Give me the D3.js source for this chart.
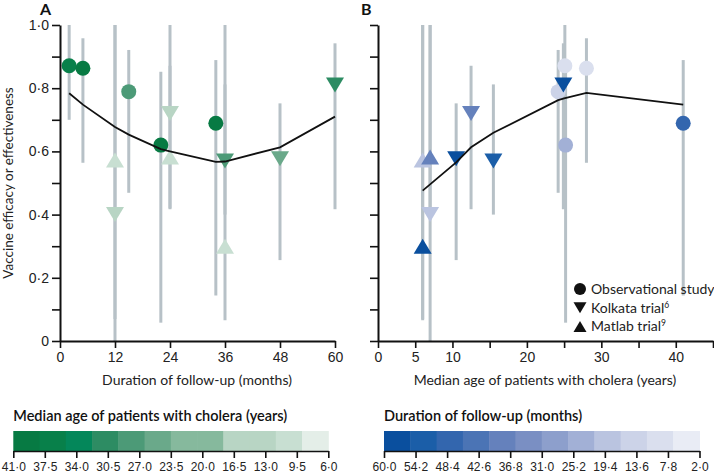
<!DOCTYPE html>
<html>
<head>
<meta charset="utf-8">
<script src="https://cdn.jsdelivr.net/npm/d3@7"></script>
<style>
  html, body { margin: 0; padding: 0; background: #fff; }
  svg { display: block; font-family: Lato, "Open Sans", "DejaVu Sans", sans-serif; }
</style>
</head>
<body>
<svg id="chart" width="714" height="473"></svg>
<script>
// ---------------- data ----------------
const studyType      = ["obs","obs","obs","obs","obs","kolkata","kolkata","kolkata","kolkata","kolkata","matlab","matlab","matlab"];
const durationMonths = [2, 5, 15, 22, 34, 12, 24, 36, 48, 60, 12, 24, 36];
const medianAge      = [25.1, 28.0, 24.2, 25.2, 41.0, 7.0, 12.5, 15.5, 10.5, 24.9, 6.0, 7.0, 6.0];
const efficacy       = [0.871, 0.863, 0.789, 0.620, 0.689, 0.40, 0.72, 0.57, 0.577, 0.81, 0.573, 0.582, 0.30];
const ciLow          = [0.70, 0.564, 0.469, 0.058, 0.144, 0.0, 0.417, 0.40, 0.256, 0.417, 0.07, 0.42, 0.066];
const ciHigh         = [1.0, 0.958, 0.921, 0.852, 0.889, 1.0, 0.871, 0.812, 0.752, 0.942, 1.0, 1.0, 1.0];
// legend value each marker's colour corresponds to (panel A: age legend, panel B: duration legend)
const shadeAgeValue      = [36, 40, 28, 39, 41, 16, 16, 28, 25, 31, 10, 10, 10];
const shadeDurationValue = [9, 9, 14, 23, 48, 17, 36, 53, 58, 59, 19, 38, 56];

// fitted curves
const fitDurationX = [2, 5, 12, 15, 22, 24, 34, 36, 48, 60];
const fitDurationY = [0.784, 0.748, 0.677, 0.653, 0.607, 0.600, 0.567, 0.568, 0.613, 0.710];
const fitAgeX = [6, 10.5, 12.5, 15.5, 24.2, 25, 28, 41];
const fitAgeY = [0.476, 0.565, 0.613, 0.659, 0.762, 0.768, 0.785, 0.748];

// axes ticks
const yTicks = [0, 0.1, 0.2, 0.3, 0.4, 0.5, 0.6, 0.7, 0.8, 0.9, 1.0];
const xTicksA = [0, 12, 24, 36, 48, 60];
const xTicksB = [0, 5, 10, 15, 20, 25, 30, 35, 40, 45];
const xLabelsB = [0, 5, 10, 20, 30, 40];

// colour legends
const ageLegendTicks = [41.0, 37.5, 34.0, 30.5, 27.0, 23.5, 20.0, 16.5, 13.0, 9.5, 6.0];
const ageLegendColours = ["#077a43","#08804a","#04875a","#2d8c63","#4c9a77","#6aa98a","#86b99d","#86b99d","#b8d5c4","#b8d5c4","#c8dfd2","#e4eee8"];
const durLegendTicks = [60.0, 54.2, 48.4, 42.6, 36.8, 31.0, 25.2, 19.4, 13.6, 7.8, 2.0];
const durLegendColours = ["#0a4f9e","#1b5ea8","#3366ae","#4b74b5","#6581bc","#7a8fc3","#8d9fcc","#a2b0d6","#bac4e0","#ccd3e8","#dadfee","#e9ecf5"];

const studies = studyType.map((t, i) => ({
  type: t, dur: durationMonths[i], age: medianAge[i], ve: efficacy[i],
  lo: ciLow[i], hi: ciHigh[i], shadeA: shadeAgeValue[i], shadeB: shadeDurationValue[i]
}));

// ---------------- drawing ----------------
const svg = d3.select("#chart");
const fmt = d => d3.format(".1f")(d).replace(".", "·");
const fmtY = d => d === 0 ? "0" : fmt(d);

const y = d3.scaleLinear().domain([0, 1]).range([341, 25]);
const xA = d3.scaleLinear().domain([0, 60]).range([60, 335]);
const xB = d3.scaleLinear().domain([0, 45]).range([378, 713]);

const colA = d3.scaleQuantize().domain([6, 41]).range(ageLegendColours.slice().reverse());
const colB = d3.scaleQuantize().domain([2, 60]).range(durLegendColours.slice().reverse());

function tri(cx, cy, hw, h, down) {
  const t = down ? cy - h / 2 : cy + h / 2;
  const b = down ? cy + h / 2 : cy - h / 2;
  return `M${cx - hw},${t}L${cx + hw},${t}L${cx},${b}Z`;
}

function styleAxis(g, fs) {
  g.select(".domain").attr("stroke", "#111").attr("stroke-width", 2);
  g.selectAll(".tick line").attr("stroke", "#111").attr("stroke-width", 1.6);
  g.selectAll(".tick text").attr("fill", "#222").style("font-size", fs + "px").attr("font-family", null);
}

function panel(x, xKey, colour, shadeKey, ticks, labelSet, fitX, fitY, showYLabels) {
  const g = svg.append("g");
  // error bars
  g.selectAll("line.ci").data(studies).join("line")
    .attr("x1", d => x(d[xKey])).attr("x2", d => x(d[xKey]))
    .attr("y1", d => y(d.lo)).attr("y2", d => y(d.hi))
    .attr("stroke", "#b7c1c7").attr("stroke-width", 3);
  // markers (lighter first, darker on top)
  const pts = studies.slice().sort((a, b) => a[shadeKey] - b[shadeKey]);
  pts.forEach(d => {
    const cx = x(d[xKey]), cy = y(d.ve), c = colour(d[shadeKey]);
    if (d.type === "obs") g.append("circle").attr("cx", cx).attr("cy", cy).attr("r", 7.5).attr("fill", c);
    else g.append("path").attr("d", tri(cx, cy, 9, 15, d.type === "kolkata")).attr("fill", c);
  });
  // fitted line
  const line = d3.line().x((d, i) => x(fitX[i])).y(d => y(d));
  g.append("path").datum(fitY).attr("d", line).attr("fill", "none").attr("stroke", "#111").attr("stroke-width", 1.8);

  // axes
  const ax = g.append("g").attr("transform", "translate(0,341)")
    .call(d3.axisBottom(x).tickValues(ticks).tickSize(7).tickSizeOuter(0).tickPadding(4)
      .tickFormat(d => labelSet.includes(d) ? d : ""));
  styleAxis(ax, 14);
  const ay = g.append("g").attr("transform", `translate(${x.range()[0]},0)`)
    .call(d3.axisLeft(y).tickValues(yTicks).tickSize(8).tickSizeOuter(0).tickPadding(3)
      .tickFormat(d => showYLabels && Math.round(d * 10) % 2 === 0 ? fmtY(d) : ""));
  styleAxis(ay, 14);
  return g;
}

panel(xA, "dur", colA, "shadeA", xTicksA, xTicksA, fitDurationX, fitDurationY, true);
panel(xB, "age", colB, "shadeB", xTicksB, xLabelsB, fitAgeX, fitAgeY, false);

// titles
svg.append("text").attr("x", 40).attr("y", 15).text("A").style("font-size", "16px").style("font-weight", "bold").attr("fill", "#111");
svg.append("text").attr("x", 361).attr("y", 15).text("B").style("font-size", "16px").style("font-weight", "bold").attr("fill", "#111");
svg.append("text").attr("x", 197).attr("y", 385).attr("text-anchor", "middle").style("font-size", "14px").attr("fill", "#222")
  .text("Duration of follow-up (months)");
svg.append("text").attr("x", 545).attr("y", 385).attr("text-anchor", "middle").style("font-size", "14px").attr("fill", "#222")
  .text("Median age of patients with cholera (years)");
svg.append("text").attr("transform", "translate(12.5,183) rotate(-90)").attr("text-anchor", "middle")
  .style("font-size", "13.5px").attr("fill", "#222").text("Vaccine efficacy or effectiveness");

// shape legend
const legItems = [
  { type: "obs", label: "Observational study", sup: "" },
  { type: "kolkata", label: "Kolkata trial", sup: "6" },
  { type: "matlab", label: "Matlab trial", sup: "9" }
];
legItems.forEach((d, i) => {
  const cy = 289 + i * 18.7, cx = 580;
  if (d.type === "obs") svg.append("circle").attr("cx", cx).attr("cy", cy).attr("r", 6).attr("fill", "#111");
  else svg.append("path").attr("d", tri(cx, cy, 6.5, 11, d.type === "kolkata")).attr("fill", "#111");
  const t = svg.append("text").attr("x", 591).attr("y", cy + 4.8).style("font-size", "14px").attr("fill", "#222").text(d.label);
  if (d.sup) t.append("tspan").attr("dy", -5).style("font-size", "8.5px").text(d.sup);
});

// colour bar legends
function colourBar(x0, x1, title, ticks, colours) {
  const g = svg.append("g");
  const s = d3.scaleLinear().domain([ticks[0], ticks[ticks.length - 1]]).range([x0, x1]);
  const n = colours.length, step = (ticks[ticks.length - 1] - ticks[0]) / n;
  colours.forEach((c, i) => {
    const a = s(ticks[0] + i * step), b = s(ticks[0] + (i + 1) * step);
    g.append("rect").attr("x", a).attr("y", 431).attr("width", b - a + 0.5).attr("height", 20).attr("fill", c);
  });
  const ax = g.append("g").attr("transform", "translate(0,451)")
    .call(d3.axisBottom(s).tickValues(ticks).tickSize(7).tickSizeOuter(0).tickPadding(4).tickFormat(fmt));
  ax.select(".domain").attr("stroke", "#111").attr("stroke-width", 1.6);
  ax.selectAll(".tick line").attr("stroke", "#111").attr("stroke-width", 1.6);
  ax.selectAll(".tick text").attr("fill", "#222").style("font-size", "12px").attr("font-family", null);
  g.append("text").attr("x", x0).attr("y", 421).style("font-size", "14.5px").style("font-weight", "600").attr("fill", "#111").text(title);
}
colourBar(13.3, 328.3, "Median age of patients with cholera  (years)", ageLegendTicks, ageLegendColours);
colourBar(384, 699.5, "Duration of follow-up (months)", durLegendTicks, durLegendColours);
</script>
</body>
</html>
